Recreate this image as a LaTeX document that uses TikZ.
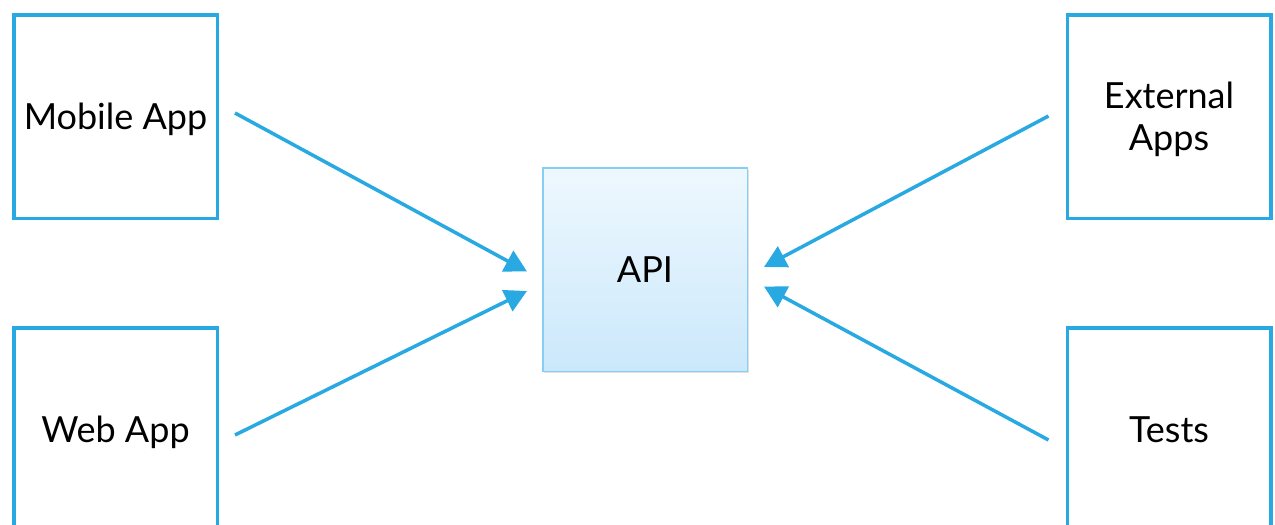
\documentclass[tikz,border=0pt]{standalone}
\usepackage{fontspec}
\setmainfont{Lato}
\usetikzlibrary{arrows.meta,calc,shadows}
\definecolor{lineblue}{HTML}{29A9E1}
\definecolor{apiedge}{HTML}{86CEF3}
\definecolor{apitop}{HTML}{EEF8FE}
\definecolor{apibot}{HTML}{CBE8FB}
\begin{document}
\begin{tikzpicture}[x=1pt,y=-1pt,
  client/.style={draw=lineblue,line width=3.5pt,fill=white,
    minimum width=203.5pt,minimum height=203.5pt,inner sep=0pt,
    align=center,font=\fontsize{36}{42}\selectfont,
    text height=25.8pt,text depth=0pt,
    drop shadow={shadow xshift=1.5pt,shadow yshift=-2pt,opacity=0.3,fill=black!40}},
  apibox/.style={draw=apiedge,line width=1.5pt,top color=apitop,bottom color=apibot,
    minimum width=204.5pt,minimum height=203.5pt,inner sep=0pt,
    font=\fontsize{36}{42}\selectfont,text height=25.8pt,text depth=0pt,
    drop shadow={shadow xshift=1.5pt,shadow yshift=-2pt,opacity=0.3,fill=black!40}},
  conn/.style={draw=lineblue,line width=3.5pt,
    -{Triangle[length=22pt,width=23pt]}}]
\useasboundingbox (0,0) rectangle (1275,525);
\clip (0,0) rectangle (1275,525);
\node[client] (mobile) at (115.5,116.5) {Mobile App};
\node[client] (web) at (115.5,429.5) {Web App};
\node[client,text height=67.8pt] (ext) at (1169,116.5) {External\\Apps};
\node[client] (tests) at (1169,429.5) {Tests};
\node[apibox] (api) at (645,269.5) {API};
\coordinate (m1) at ($(mobile.east)+(16,-3.5)$);
\coordinate (w1) at ($(web.east)+(16,5.5)$);
\coordinate (e1) at ($(ext.west)+(-17,-0.5)$);
\coordinate (t1) at ($(tests.west)+(-17,10.5)$);
\coordinate (a1) at ($(api.west)+(-15,2)$);
\coordinate (a2) at ($(api.west)+(-15,21.5)$);
\coordinate (a3) at ($(api.east)+(16,-2.5)$);
\coordinate (a4) at ($(api.east)+(16,17)$);
\draw[conn] (m1) -- (a1);
\draw[conn] (w1) -- (a2);
\draw[conn] (e1) -- (a3);
\draw[conn] (t1) -- (a4);
\end{tikzpicture}
\end{document}
